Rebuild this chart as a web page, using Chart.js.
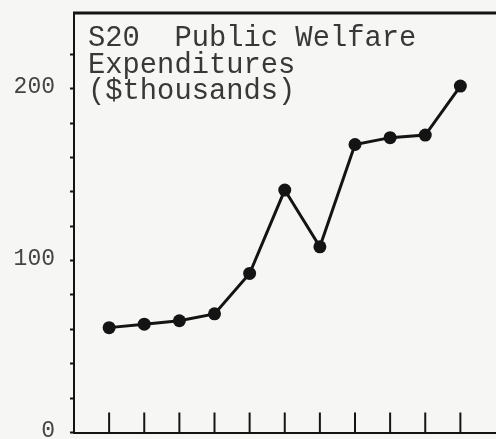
<!DOCTYPE html>
<html>
<head>
<meta charset="utf-8">
<script src="https://cdn.jsdelivr.net/npm/chart.js@4"></script>
<style>
  html, body { margin: 0; padding: 0; overflow: hidden; background: #f6f6f4; }
  #wrap { position: absolute; left: 0; top: 0; width: 502px; height: 439px; }
</style>
</head>
<body>
<div id="wrap"><canvas id="welfareChart"></canvas></div>
<script>
// S20 public welfare expenditures
const periods = [1, 2, 3, 4, 5, 6, 7, 8, 9, 10, 11];
const expenditures = [61, 63, 65, 69, 92.5, 141, 108, 167.5, 171.5, 173, 201.5];
const labeledTicks = [0, 100, 200];
const titleLines = ["S20  Public Welfare", "Expenditures", "($thousands)"];

const ink = "#141414";
const mono = "'Liberation Mono', 'DejaVu Sans Mono', monospace";

// draws the frame top, the inward x ticks and the caption inside the plot
const paperBits = {
    id: "paperBits",
    afterDraw(chart) {
        const { ctx, chartArea, scales } = chart;
        ctx.save();
        ctx.strokeStyle = ink;
        ctx.lineWidth = 3;
        ctx.beginPath();
        ctx.moveTo(chartArea.left - 1, chartArea.top);
        ctx.lineTo(chartArea.right + 5, chartArea.top);
        ctx.stroke();

        ctx.lineWidth = 2;
        periods.forEach(p => {
            const x = scales.x.getPixelForValue(p);
            ctx.beginPath();
            ctx.moveTo(x, chartArea.bottom);
            ctx.lineTo(x, chartArea.bottom - 20);
            ctx.stroke();
        });

        ctx.fillStyle = "#383838";
        ctx.font = "28.8px " + mono;
        ctx.textBaseline = "alphabetic";
        titleLines.forEach((line, i) => {
            ctx.fillText(line, 88, 46 + i * 26.5);
        });
        ctx.restore();
    }
};

const data = {
    datasets: [{
        data: periods.map((p, i) => ({ x: p, y: expenditures[i] })),
        borderColor: ink,
        backgroundColor: ink,
        borderWidth: 3,
        pointRadius: 6.5,
        pointBackgroundColor: ink,
        pointBorderWidth: 0,
        tension: 0
    }]
};

const options = {
    animation: false,
    responsive: true,
    maintainAspectRatio: false,
    layout: { padding: { left: 0, top: 13, right: 3, bottom: 0 } },
    plugins: {
        legend: { display: false },
        tooltip: { enabled: false }
    },
    scales: {
        x: {
            type: "linear",
            min: 0,
            max: 12,
            afterFit: scale => {
                scale.height = 1;
                scale.paddingLeft = 0;
                scale.paddingRight = 0;
            },
            grid: { display: false, drawTicks: false },
            ticks: { display: false },
            border: { color: ink, width: 2 }
        },
        y: {
            min: 0,
            max: 244,
            afterBuildTicks: scale => {
                scale.ticks = scale.ticks.filter(t => t.value % 20 === 0);
            },
            afterFit: scale => {
                scale.width = 74;
                scale.paddingTop = 0;
                scale.paddingBottom = 0;
            },
            grid: { drawOnChartArea: false, drawTicks: true, tickLength: 4, tickColor: ink, tickWidth: 2 },
            border: { color: ink, width: 2 },
            ticks: {
                stepSize: 20,
                padding: 15,
                labelOffset: -2,
                color: "#444",
                font: { family: mono, size: 23 },
                callback: v => labeledTicks.includes(v) ? String(v) : ""
            }
        }
    }
};

new Chart(document.getElementById("welfareChart"), {
    type: "line",
    data,
    options,
    plugins: [paperBits]
});
</script>
</body>
</html>
